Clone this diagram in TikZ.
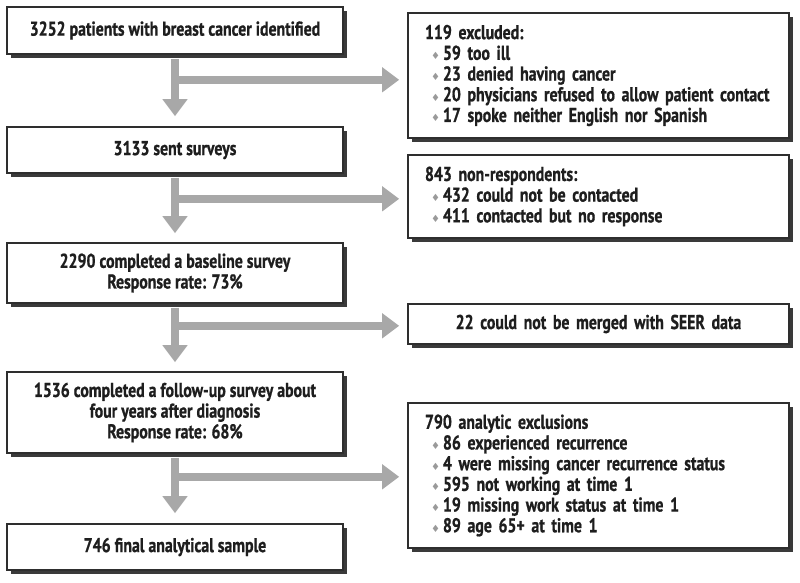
\documentclass[tikz,border=0pt]{standalone}
\usepackage{fontspec}
\setmainfont{PT Sans}[FakeStretch=0.79,BoldFeatures={FakeBold=0.8}]
\newfontfamily\dejavu{DejaVu Sans}
\usetikzlibrary{arrows.meta,shadows}
\definecolor{txt}{HTML}{1E1E1E}
\definecolor{boxline}{HTML}{2E2E2E}
\definecolor{shadowc}{HTML}{3A3A3A}
\definecolor{arrowc}{HTML}{A8A8A8}
\definecolor{bulc}{HTML}{9A9A9A}
\newcommand{\bul}{\hspace*{6pt}{\color{bulc}\dejavu\fontsize{10}{10}\selectfont\symbol{"2666}}\hspace{3pt}}
\begin{document}
\begin{tikzpicture}[x=1pt,y=-1pt,
  box/.style={draw=boxline, line width=1.6pt, fill=white,
    drop shadow={shadow xshift=3.5pt, shadow yshift=-3.5pt, fill=shadowc, opacity=1},
    inner sep=0pt, font=\fontsize{20}{20.7}\selectfont\bfseries, text=txt},
  lbox/.style={box, minimum width=336pt, align=center},
  rbox/.style={box, minimum width=381pt, inner xsep=17pt, text width=347pt, align=left},
  flow/.style={draw=arrowc, line width=8pt, -{Triangle[width=24pt,length=17pt]}},
]
\useasboundingbox[fill=white] (0,0) rectangle (800,582);

\node[lbox, minimum height=47pt] (b1) at (175,30.5) {3252 patients with breast cancer identified};
\node[lbox, minimum height=46pt] (b2) at (175,150) {3133 sent surveys};
\node[lbox, minimum height=60pt] (b3) at (175,273) {2290 completed a baseline survey\\Response rate: 73\%};
\node[lbox, minimum height=81pt] (b4) at (175,412.5) {1536 completed a follow-up survey about\\four years after diagnosis\\Response rate: 68\%};
\node[lbox, minimum height=46pt] (b5) at (175,547) {746 final analytical sample};

\node[rbox, minimum height=125pt] (e1) at (598.5,75.5) {119 excluded:\\
\bul 59 too ill\\
\bul 23 denied having cancer\\
\bul 20 physicians refused to allow patient contact\\
\bul 17 spoke neither English nor Spanish};
\node[rbox, minimum height=83pt] (e2) at (598.5,196.5) {843 non-respondents:\\
\bul 432 could not be contacted\\
\bul 411 contacted but no response};
\node[rbox, minimum height=40pt, align=center] (e3) at (598.5,324) {22 could not be merged with SEER data};
\node[rbox, minimum height=145pt] (e4) at (598.5,475.5) {790 analytic exclusions\\
\bul 86 experienced recurrence\\
\bul 4 were missing cancer recurrence status\\
\bul 595 not working at time 1\\
\bul 19 missing work status at time 1\\
\bul 89 age 65+ at time 1};

\path (b1.south) ++(0,25) coordinate (h1);
\path (b2.south) ++(0,25) coordinate (h2);
\path (b3.south) ++(0,22) coordinate (h3);
\path (b4.south) ++(0,23) coordinate (h4);

\draw[flow, shorten <=4pt, shorten >=10pt] (b1.south) -- (b2.north);
\draw[flow, shorten <=4pt, shorten >=9pt] (b2.south) -- (b3.north);
\draw[flow, shorten <=4pt, shorten >=9pt] (b3.south) -- (b4.north);
\draw[flow, shorten <=4pt, shorten >=10pt] (b4.south) -- (b5.north);

\draw[flow, shorten >=8pt] (h1) -- (h1 -| e1.west);
\draw[flow, shorten >=8pt] (h2) -- (h2 -| e2.west);
\draw[flow, shorten >=8pt] (h3) -- (h3 -| e3.west);
\draw[flow, shorten >=8pt] (h4) -- (h4 -| e4.west);
\end{tikzpicture}
\end{document}
